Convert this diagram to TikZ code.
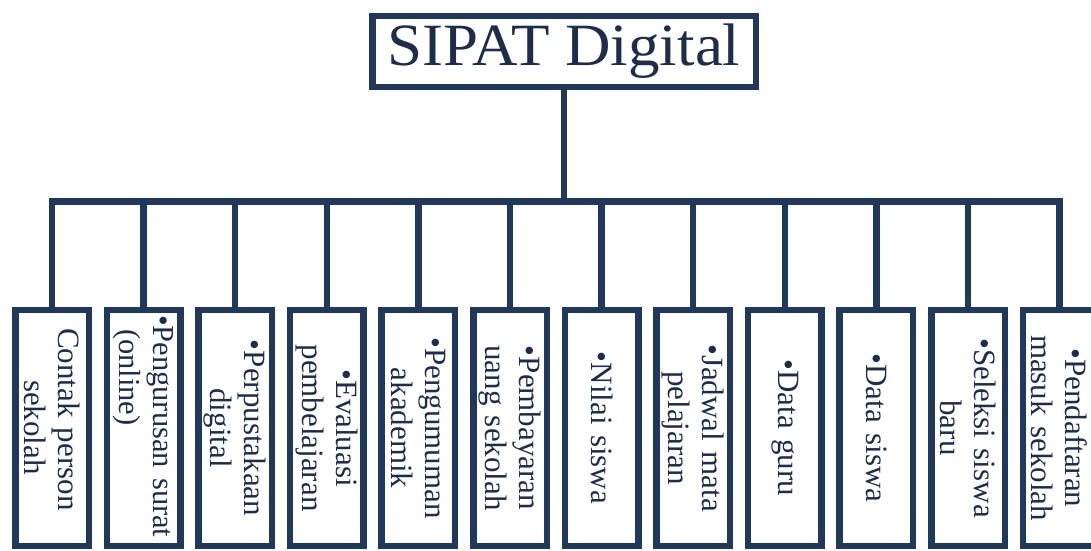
\documentclass[tikz,border=0pt]{standalone}
\usepackage{fontspec}
\setmainfont{Liberation Serif}
\definecolor{navy}{RGB}{31,56,92}
\definecolor{inkblue}{RGB}{30,45,75}
\begin{document}
\begin{tikzpicture}[x=1pt,y=-1pt,
  rootbox/.style={draw=navy,line width=6.5pt,inner sep=0pt,
    minimum width=383.5pt,minimum height=71pt,text=inkblue,
    font=\fontsize{60}{62}\selectfont},
  itembox/.style={draw=navy,line width=6.5pt,inner sep=0pt,rotate=-90,
    minimum width=236pt,minimum height=73.5pt,text width=220pt,
    align=center,text=inkblue,font=\fontsize{31}{34}\selectfont},
  link/.style={draw=navy,line width=6.5pt,line join=miter}]
\useasboundingbox (0,0) rectangle (1091,550);
\fill[white] (0,0) rectangle (1091,550);
\node[rootbox] (root) at (564,51.5) {\scalebox{1.05}[1]{SIPAT Digital}};
% rotated boxes: local west = top of the box
\node[itembox,align=left] (c1) at (52,428) {\hspace*{10pt}Contak person\\\hspace*{62pt}sekolah};
\node[itembox,align=left,text width=226pt,font=\fontsize{30.5}{34}\selectfont] (c2) at (143.6,428) {\mbox{•Pengurusan surat}\\\hspace*{14pt}(online)};
\node[itembox] (c3) at (235.2,428) {•Perpustakaan\\digital};
\node[itembox] (c4) at (326.8,428) {•Evaluasi\\pembelajaran};
\node[itembox] (c5) at (418.4,428) {•Pengumuman\\akademik};
\node[itembox] (c6) at (510,428) {•Pembayaran\\uang sekolah};
\node[itembox] (c7) at (601.6,428) {•Nilai siswa};
\node[itembox] (c8) at (693.2,428) {•Jadwal mata\\pelajaran};
\node[itembox] (c9) at (784.8,428) {•Data guru};
\node[itembox] (c10) at (876.4,428) {•Data siswa};
\node[itembox] (c11) at (968,428) {•Seleksi siswa\\baru};
\node[itembox] (c12) at (1059.6,428) {•Pendaftaran\\masuk sekolah};
\foreach \i in {1,...,12}{
  \draw[link] (root.south) -- ++(0,111) -| (c\i.west);
}
\end{tikzpicture}
\end{document}
